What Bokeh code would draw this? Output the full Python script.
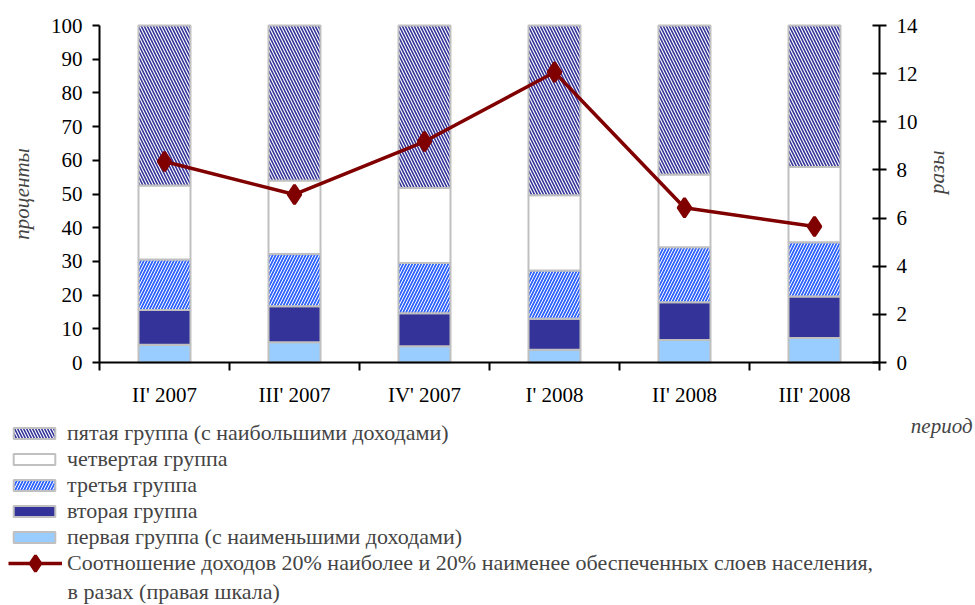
import math
from bokeh.plotting import figure
from bokeh.models import (Range1d, LinearAxis, FixedTicker, Legend, LegendItem,
                          Label, ColumnDataSource)
from bokeh.embed import file_html
from bokeh.resources import INLINE

periods = ["II' 2007", "III' 2007", "IV' 2007", "I' 2008", "II' 2008", "III' 2008"]
group1 = [5.3, 6.0, 4.8, 3.8, 6.7, 7.3]       # первая группа
group2 = [10.3, 10.7, 9.8, 9.2, 11.2, 12.3]   # вторая группа
group3 = [15.0, 15.5, 14.9, 14.3, 16.3, 16.1] # третья группа
group4 = [21.9, 21.8, 22.3, 22.3, 21.6, 22.3] # четвертая группа
group5 = [47.5, 46.0, 48.2, 50.4, 44.2, 42.0] # пятая группа
ratio = [8.35, 6.98, 9.18, 12.06, 6.43, 5.65] # соотношение, разы

left_ticks = list(range(0, 101, 10))
right_ticks = list(range(0, 15, 2))

FONT = "Liberation Serif"
W, H = 975, 605
# plot area geometry (pixels): left axis x, right axis x, top (100%) y, bottom (0) y
AX_L, AX_R, AX_T, AX_B = 99, 879, 25, 362

n = len(periods)
xpos = [i + 0.5 for i in range(n)]
src = ColumnDataSource(dict(x=xpos, g1=group1, g2=group2, g3=group3,
                            g4=group4, g5=group5, ratio=ratio))

cat_px = (AX_R - AX_L) / n
pct_px = (AX_B - AX_T) / 100.0
r_px = (AX_B - AX_T) / 14.0

p = figure(width=W, height=H, output_backend="svg", toolbar_location=None,
           x_range=Range1d(-AX_L / cat_px, (W - AX_L) / cat_px),
           y_range=Range1d(-(H - AX_B) / pct_px, 100 + AX_T / pct_px),
           x_axis_type=None, y_axis_type=None,
           min_border=0)
p.outline_line_color = None
p.grid.visible = False
p.extra_y_ranges = {"r": Range1d(-(H - AX_B) / r_px, 14 + AX_T / r_px)}

keys = ["g1", "g2", "g3", "g4", "g5"]
fills = ["#99CCFF", "#333399", "#3366FF", "white", "white"]
rs = p.vbar_stack(keys, x="x", width=0.4, source=src, line_color="#C0C0C0",
                  line_width=2, fill_color=fills)
rs[2].glyph.hatch_pattern = "/"
rs[2].glyph.hatch_color = "white"
rs[2].glyph.hatch_scale = 6
rs[2].glyph.hatch_weight = 1.0
rs[4].glyph.hatch_pattern = "\\"
rs[4].glyph.hatch_color = "#333399"
rs[4].glyph.hatch_scale = 6
rs[4].glyph.hatch_weight = 1.6

ln = p.line("x", "ratio", source=src, y_range_name="r", line_color="#800000",
            line_width=3.5)
mk = p.scatter("x", "ratio", source=src, y_range_name="r", marker="diamond",
               size=19, line_width=3, fill_color="#800000",
               line_color="#800000")

# axes (fixed at the data origin, so the frame can hold the legend too)
xaxis = LinearAxis(ticker=FixedTicker(ticks=xpos, minor_ticks=list(range(n + 1))),
                   major_label_overrides={x: lab for x, lab in zip(xpos, periods)},
                   fixed_location=0, bounds=(0, n),
                   major_tick_in=0, major_tick_out=0, minor_tick_in=0, minor_tick_out=8,
                   axis_line_width=2, minor_tick_line_width=2,
                   major_label_standoff=12,
                   major_label_text_font=FONT, major_label_text_font_size="21px",
                   major_label_text_color="black")
p.add_layout(xaxis, "below")

laxis = LinearAxis(ticker=FixedTicker(ticks=left_ticks, minor_ticks=[]),
                   fixed_location=0, bounds=(0, 100),
                   major_tick_in=0, major_tick_out=7, axis_line_width=2,
                   major_tick_line_width=2, major_label_standoff=10,
                   major_label_text_font=FONT, major_label_text_font_size="21px",
                   major_label_text_color="black",
                   axis_label="проценты", axis_label_text_font=FONT,
                   axis_label_text_font_style="italic",
                   axis_label_text_font_size="21px", axis_label_standoff=14)
p.add_layout(laxis, "left")

raxis = LinearAxis(y_range_name="r", ticker=FixedTicker(ticks=right_ticks, minor_ticks=[]),
                   fixed_location=n, bounds=(0, 14),
                   major_tick_in=7, major_tick_out=7, axis_line_width=2,
                   major_tick_line_width=2, major_label_standoff=10,
                   major_label_text_font=FONT, major_label_text_font_size="21px",
                   major_label_text_color="black",
                   axis_label="разы", axis_label_text_font=FONT,
                   axis_label_text_font_style="italic",
                   axis_label_orientation=math.pi / 2,
                   axis_label_text_font_size="21px", axis_label_standoff=16)
p.add_layout(raxis, "right")

p.add_layout(Label(x=W - 3, y=H - 425, x_units="screen", y_units="screen",
                   text="период", text_font=FONT, text_font_style="italic",
                   text_font_size="21px", text_align="right",
                   text_baseline="middle"))

names = ["первая группа (с наименьшими доходами)", "вторая группа", "третья группа",
         "четвертая группа", "пятая группа (с наибольшими доходами)"]
items = [LegendItem(label=n_, renderers=[r]) for n_, r in zip(names, rs)][::-1]
legend = Legend(items=items, location=(8, 55), orientation="vertical",
                glyph_width=52, glyph_height=14, label_text_font=FONT,
                label_text_font_size="22px", label_standoff=7, spacing=0,
                padding=0, margin=0, border_line_color=None,
                background_fill_alpha=0)
p.add_layout(legend, "center")

line_legend = Legend(items=[LegendItem(label="Соотношение доходов 20% наиболее и 20% наименее обеспеченных слоев населения,",
                                       renderers=[ln, mk])],
                     location=(8, 22), orientation="vertical",
                     glyph_width=54, glyph_height=40, label_text_font=FONT,
                     label_text_font_size="22px", label_standoff=5,
                     padding=0, margin=0, border_line_color=None,
                     background_fill_alpha=0)
p.add_layout(line_legend, "center")

p.add_layout(Label(x=67, y=H - 591, x_units="screen", y_units="screen",
                   text="в разах (правая шкала)", text_font=FONT,
                   text_font_size="22px", text_align="left",
                   text_baseline="middle"))

open("out.html", "w").write(file_html(p, INLINE))
